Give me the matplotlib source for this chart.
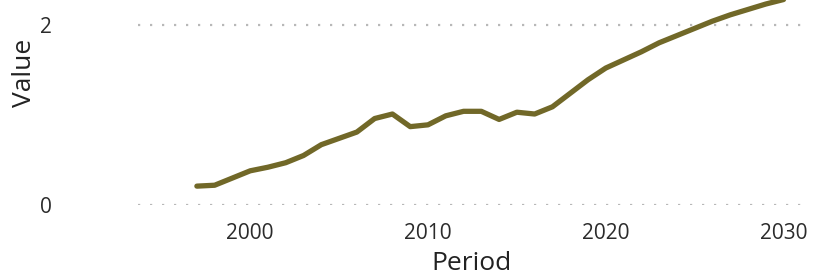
import numpy as np
import matplotlib.pyplot as plt

plt.rcParams['font.family'] = ['Open Sans', 'DejaVu Sans']

years = [1997, 1998, 1999, 2000, 2001, 2002, 2003, 2004, 2005, 2006, 2007,
         2008, 2009, 2010, 2011, 2012, 2013, 2014, 2015, 2016, 2017, 2018,
         2019, 2020, 2021, 2022, 2023, 2024, 2025, 2026, 2027, 2028, 2029, 2030]
values = [0.21, 0.22, 0.30, 0.38, 0.42, 0.47, 0.55, 0.67, 0.74, 0.81, 0.96,
          1.01, 0.87, 0.89, 0.99, 1.04, 1.04, 0.95, 1.03, 1.01, 1.09, 1.24,
          1.39, 1.52, 1.61, 1.70, 1.80, 1.88, 1.96, 2.04, 2.11, 2.17, 2.23, 2.28]
xticks = [2000, 2010, 2020, 2030]
yticks = [0, 2]

fig = plt.figure(figsize=(8.13, 2.76), dpi=100)
ax = fig.add_axes([0.170, 0.257, 0.820, 0.957])

ax.plot(years, values, color='#716828', linewidth=3.8, solid_capstyle='round')

ax.set_xlim(1993.7, 2031.2)
ax.set_ylim(0, 2.93)
ax.set_xticks(xticks)
ax.set_yticks(yticks)
ax.grid(axis='y', color='#b8b8b8', linestyle=(0, (1, 4.4)), linewidth=1.6)
ax.grid(axis='x', visible=False)
for s in ax.spines.values():
    s.set_visible(False)
ax.tick_params(axis='both', length=0, labelsize=15, labelcolor='#2b2b2b')
ax.tick_params(axis='x', pad=13)
ax.tick_params(axis='y', pad=62)

ax.set_xlabel('Period', fontsize=19, color='#222222', labelpad=5)
ax.set_ylabel('Value', fontsize=19, color='#222222', labelpad=2)

fig.savefig('out.png', dpi=100)
